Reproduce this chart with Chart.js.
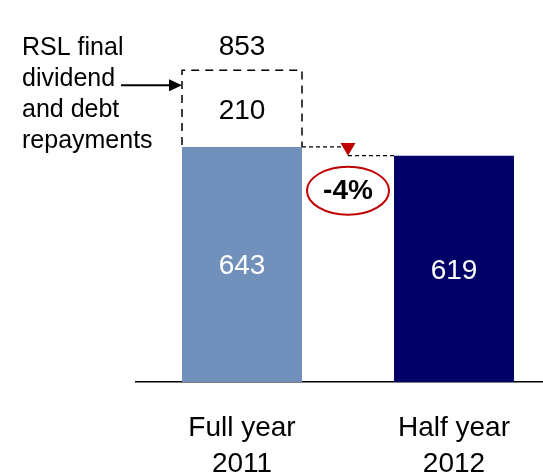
<!DOCTYPE html>
<html>
<head>
<meta charset="utf-8">
<script src="https://cdn.jsdelivr.net/npm/chart.js@4.4.1/dist/chart.umd.min.js"></script>
<style>
  html, body { margin: 0; padding: 0; background: #fff; overflow: hidden; }
  #wrap { width: 543px; height: 476px; overflow: hidden; }
</style>
</head>
<body>
<div id="wrap"><canvas id="chart" width="560" height="476"></canvas></div>
<script>
// data
const categories = [['Full year', '2011'], ['Half year', '2012']];
const baseValues = [643, 619];
const rslValues = [210, null];
const totalLabel = '853';
const changeLabel = '-4%';
const noteLines = ['RSL final', 'dividend', 'and debt', 'repayments'];

const FONT = "'Liberation Sans', Arial, sans-serif";

// draws the dashed box, value labels, note + arrow, and the change marker
const overlay = {
  id: 'overlay',
  afterDatasetsDraw(chart) {
    const ctx = chart.ctx;
    const y = chart.scales.y;
    const b0 = chart.getDatasetMeta(0).data;
    const b1 = chart.getDatasetMeta(1).data;
    const half0 = b0[0].width / 2;
    const left1 = b0[0].x - half0, right1 = b0[0].x + half0;
    const left2 = b0[1].x - b0[1].width / 2;
    const top1 = y.getPixelForValue(baseValues[0]);
    const top2 = y.getPixelForValue(baseValues[1]);
    const boxTop = y.getPixelForValue(baseValues[0] + rslValues[0]);
    const zero = y.getPixelForValue(0);

    ctx.save();
    // dashed box for RSL part
    ctx.strokeStyle = '#000';
    ctx.lineWidth = 1.5;
    ctx.setLineDash([8, 6]);
    ctx.beginPath();
    ctx.moveTo(left1, top1 - 2);
    ctx.lineTo(left1, boxTop);
    ctx.lineTo(right1, boxTop);
    ctx.lineTo(right1, top1);
    ctx.stroke();

    // connector lines
    const mid = (right1 + left2) / 2;
    ctx.lineWidth = 1.2;
    ctx.setLineDash([4, 3]);
    ctx.beginPath();
    ctx.moveTo(right1, top1);
    ctx.lineTo(mid - 7, top1);
    ctx.moveTo(mid, top2);
    ctx.lineTo(left2, top2);
    ctx.stroke();
    ctx.setLineDash([]);

    // arrow from the note to the box
    const ay = boxTop + 15;
    ctx.strokeStyle = '#000';
    ctx.fillStyle = '#000';
    ctx.lineWidth = 2;
    ctx.beginPath();
    ctx.moveTo(121, ay);
    ctx.lineTo(left1 - 10, ay);
    ctx.stroke();
    ctx.beginPath();
    ctx.moveTo(left1, ay);
    ctx.lineTo(left1 - 13, ay - 6);
    ctx.lineTo(left1 - 13, ay + 6);
    ctx.closePath();
    ctx.fill();

    // red triangle
    ctx.fillStyle = '#c00000';
    ctx.beginPath();
    ctx.moveTo(mid - 7.5, top1 - 4);
    ctx.lineTo(mid + 7.5, top1 - 4);
    ctx.lineTo(mid, top2);
    ctx.closePath();
    ctx.fill();

    // ellipse with change
    ctx.strokeStyle = '#c00000';
    ctx.lineWidth = 2;
    ctx.beginPath();
    ctx.ellipse(mid, top2 + 35, 41, 24, 0, 0, Math.PI * 2);
    ctx.stroke();
    ctx.fillStyle = '#000';
    ctx.font = 'bold 28px ' + FONT;
    ctx.textAlign = 'center';
    ctx.textBaseline = 'middle';
    ctx.fillText(changeLabel, mid, top2 + 36);

    // value labels
    ctx.font = '28px ' + FONT;
    ctx.fillStyle = '#fff';
    ctx.fillText(String(baseValues[0]), b0[0].x, (top1 + zero) / 2 + 2);
    ctx.fillText(String(baseValues[1]), b0[1].x, (top2 + zero) / 2 + 2);
    ctx.fillStyle = '#000';
    ctx.fillText(String(rslValues[0]), b1[0].x, (boxTop + top1) / 2 + 3);
    ctx.fillText(totalLabel, b0[0].x, boxTop - 23);

    // note on the left
    ctx.font = '25px ' + FONT;
    ctx.textAlign = 'left';
    noteLines.forEach((t, i) => ctx.fillText(t, 22, 48 + i * 31));
    ctx.restore();
  }
};

new Chart(document.getElementById('chart'), {
  type: 'bar',
  data: {
    labels: categories,
    datasets: [
      {
        data: baseValues,
        backgroundColor: ['#7191bc', '#000066'],
        borderWidth: 0,
        categoryPercentage: 1,
        barPercentage: 0.566,
      },
      {
        data: rslValues,
        backgroundColor: 'rgba(0,0,0,0)',
        borderWidth: 0,
        categoryPercentage: 1,
        barPercentage: 0.566,
      },
    ],
  },
  options: {
    responsive: false,
    animation: false,
    layout: { padding: { left: 136, right: 0, top: 0, bottom: 0 } },
    plugins: { legend: { display: false }, tooltip: { enabled: false } },
    scales: {
      x: {
        stacked: true,
        grid: { display: false, drawTicks: false },
        border: { display: true, color: '#000', width: 1.5 },
        ticks: {
          color: '#000',
          font: { family: FONT, size: 28, lineHeight: 1.286 },
          padding: 28,
          maxRotation: 0,
        },
        afterFit(s) { s.height = 94; },
      },
      y: {
        stacked: true,
        display: false,
        min: 0,
        max: 1045,
      },
    },
  },
  plugins: [overlay],
});
</script>
</body>
</html>
